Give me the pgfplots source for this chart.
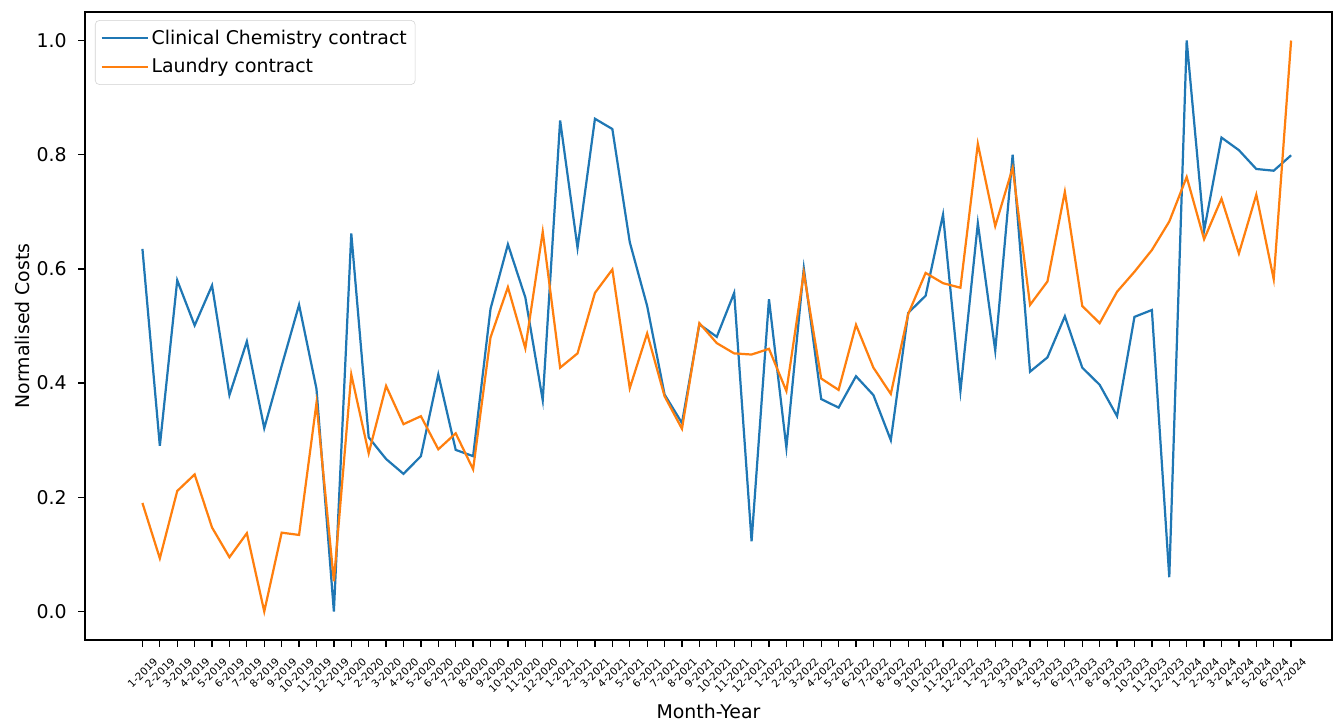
\documentclass[border=0pt]{standalone}
\usepackage{fontspec}
\setmainfont{DejaVu Sans}
\usepackage{pgfplots}
\usepackage{pgfplotstable}
\pgfplotsset{compat=1.18}
\definecolor{mblue}{HTML}{1F77B4}
\definecolor{morange}{HTML}{FF7F0E}
\pgfplotstableread{
i cc ld
0 0.635 0.190
1 0.290 0.093
2 0.580 0.211
3 0.501 0.240
4 0.571 0.147
5 0.379 0.095
6 0.473 0.137
7 0.321 0.000
8 0.430 0.138
9 0.537 0.134
10 0.390 0.365
11 0.000 0.053
12 0.662 0.415
13 0.305 0.277
14 0.267 0.395
15 0.241 0.328
16 0.272 0.342
17 0.415 0.284
18 0.283 0.312
19 0.272 0.249
20 0.530 0.480
21 0.643 0.568
22 0.550 0.461
23 0.370 0.665
24 0.860 0.427
25 0.637 0.452
26 0.863 0.558
27 0.845 0.599
28 0.647 0.391
29 0.535 0.487
30 0.380 0.377
31 0.330 0.320
32 0.503 0.505
33 0.481 0.470
34 0.558 0.452
35 0.123 0.450
36 0.547 0.460
37 0.287 0.386
38 0.601 0.593
39 0.372 0.408
40 0.357 0.388
41 0.412 0.502
42 0.379 0.427
43 0.300 0.381
44 0.523 0.521
45 0.553 0.593
46 0.695 0.575
47 0.386 0.567
48 0.680 0.819
49 0.457 0.675
50 0.800 0.777
51 0.420 0.537
52 0.445 0.578
53 0.517 0.735
54 0.427 0.535
55 0.397 0.505
56 0.342 0.560
57 0.516 0.595
58 0.528 0.633
59 0.060 0.683
60 1.000 0.761
61 0.667 0.652
62 0.830 0.723
63 0.808 0.627
64 0.775 0.730
65 0.772 0.582
66 0.799 1.000
}\datatable
\begin{document}
\begin{tikzpicture}
\path[use as bounding box] (-61.2pt,-57.6pt) rectangle (903.6pt,460.8pt);
\begin{axis}[
  at={(0pt,0pt)}, anchor=south west,
  scale only axis, width=897.84pt, height=452.16pt,
  xmin=-3.3, xmax=68.35, ymin=-0.05, ymax=1.05,
  axis line style={black, line width=0.9pt},
  tick align=outside, major tick length=5pt,
  tick style={black, line width=0.9pt},
  xtick pos=bottom, ytick pos=left,
  xtick={0,...,66},
  xticklabels={1-2019,2-2019,3-2019,4-2019,5-2019,6-2019,7-2019,8-2019,9-2019,10-2019,11-2019,12-2019,
    1-2020,2-2020,3-2020,4-2020,5-2020,6-2020,7-2020,8-2020,9-2020,10-2020,11-2020,12-2020,
    1-2021,2-2021,3-2021,4-2021,5-2021,6-2021,7-2021,8-2021,9-2021,10-2021,11-2021,12-2021,
    1-2022,2-2022,3-2022,4-2022,5-2022,6-2022,7-2022,8-2022,9-2022,10-2022,11-2022,12-2022,
    1-2023,2-2023,3-2023,4-2023,5-2023,6-2023,7-2023,8-2023,9-2023,10-2023,11-2023,12-2023,
    1-2024,2-2024,3-2024,4-2024,5-2024,6-2024,7-2024},
  x tick label style={font=\fontsize{7.5}{8}\selectfont, inner sep=0pt, anchor=north east, xshift=7.5pt, yshift=-7pt, rotate=45},
  ytick={0,0.2,0.4,0.6,0.8,1.0},
  y tick label style={font=\fontsize{13.6}{16}\selectfont, inner sep=0pt, xshift=-8pt, /pgf/number format/fixed, /pgf/number format/fixed zerofill, /pgf/number format/precision=1, /pgf/number format/assume math mode=true},
  xlabel={Month-Year}, ylabel={Normalised Costs},
  xlabel style={font=\fontsize{13.6}{16}\selectfont, at={(axis description cs:0.5,-0.113)}, anchor=center},
  ylabel style={font=\fontsize{13.6}{16}\selectfont, at={(axis description cs:-0.0505,0.5)}, anchor=center},
  legend style={at={(axis description cs:0.008,0.987)}, anchor=north west, draw=black!18, rounded corners=3pt, fill=white, font=\fontsize{13.6}{16}\selectfont, inner xsep=4pt, inner ysep=5pt, row sep=4.5pt},
  legend cell align=left,
  legend image code/.code={\draw[#1, line width=1.6pt] (0pt,0pt) -- (28pt,0pt); \path (0pt,0pt) -- (33pt,0pt);},
]
\addplot[mblue, line width=1.6pt] table[x=i, y=cc] {\datatable};
\addlegendentry{Clinical Chemistry contract}
\addplot[morange, line width=1.6pt] table[x=i, y=ld] {\datatable};
\addlegendentry{Laundry contract}
\end{axis}
\end{tikzpicture}
\end{document}
